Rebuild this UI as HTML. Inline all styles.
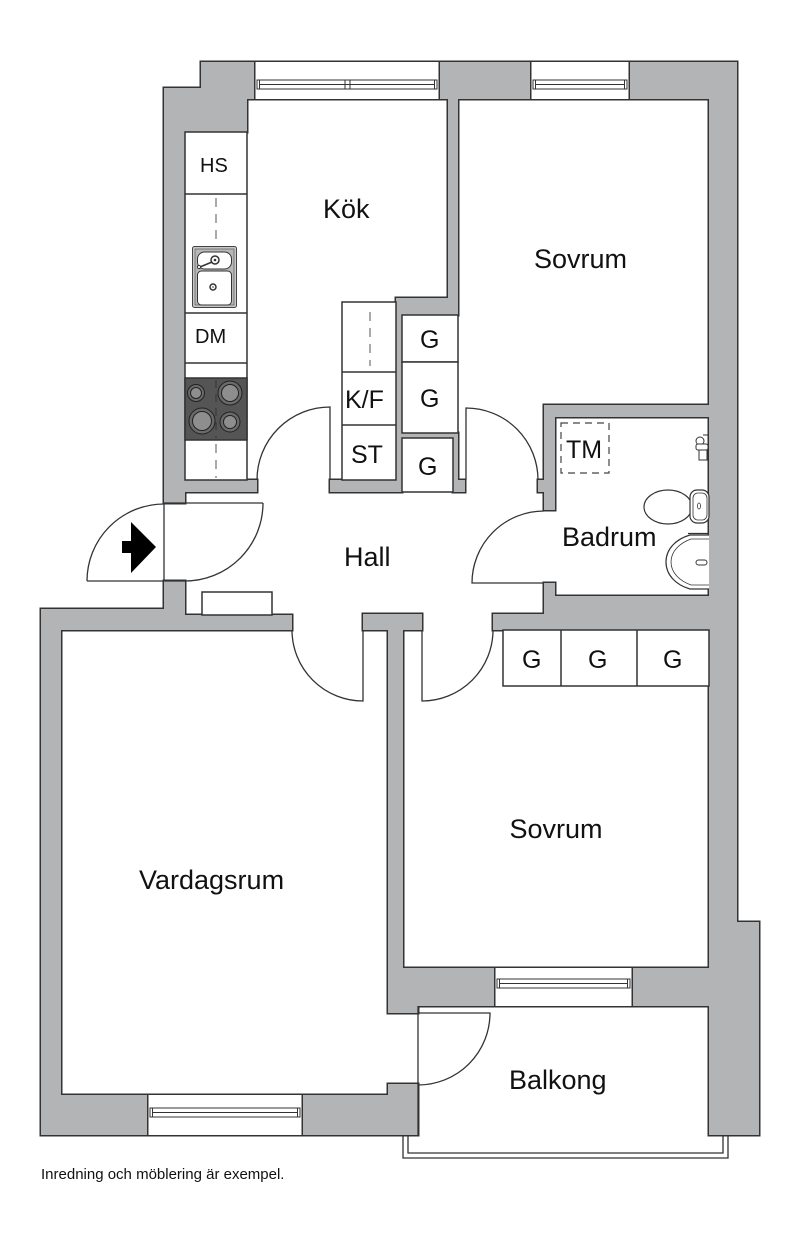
<!DOCTYPE html>
<html><head><meta charset="utf-8">
<style>
html,body{margin:0;padding:0;background:#fff;}
svg{display:block;}
text{font-family:"Liberation Sans",Arial,sans-serif;fill:#111;}
</style></head><body>
<svg width="800" height="1243" viewBox="0 0 800 1243" xmlns="http://www.w3.org/2000/svg">
<defs>
<g id="walls">
<rect x="201" y="62" width="53" height="37"/>
<rect x="164" y="88" width="83" height="44"/>
<rect x="164" y="88" width="21" height="415"/>
<rect x="440" y="62" width="90" height="37"/>
<rect x="630" y="62" width="107" height="37"/>
<rect x="709" y="62" width="28" height="868"/>
<rect x="709" y="922" width="50" height="213"/>
<rect x="448" y="95" width="10" height="220"/>
<rect x="396" y="298" width="62" height="17"/>
<rect x="396" y="298" width="6" height="194"/>
<rect x="400" y="433" width="58" height="5"/>
<rect x="453" y="433" width="5" height="59"/>
<rect x="453" y="480" width="12" height="12"/>
<rect x="180" y="480" width="77" height="12"/>
<rect x="330" y="480" width="72" height="12"/>
<rect x="544" y="405" width="170" height="12"/>
<rect x="544" y="405" width="11" height="105"/>
<rect x="538" y="480" width="17" height="12"/>
<rect x="544" y="583" width="11" height="20"/>
<rect x="544" y="596" width="170" height="34"/>
<rect x="493" y="614" width="55" height="16"/>
<rect x="363" y="614" width="59" height="16"/>
<rect x="388" y="614" width="15" height="399"/>
<rect x="180" y="615" width="112" height="15"/>
<rect x="41" y="609" width="144" height="21"/>
<rect x="164" y="581" width="21" height="49"/>
<rect x="41" y="609" width="20" height="526"/>
<rect x="41" y="1095" width="106" height="40"/>
<rect x="303" y="1095" width="115" height="40"/>
<rect x="388" y="1084" width="30" height="15"/>
<rect x="388" y="968" width="106" height="38"/>
<rect x="388" y="1000" width="30" height="13"/>
<rect x="633" y="968" width="80" height="38"/>
</g>
</defs>
<use href="#walls" fill="none" stroke="#333" stroke-width="3"/>
<use href="#walls" fill="#b3b4b6" stroke="none"/>

<!-- window edge lines -->
<g stroke="#333" stroke-width="1.5" fill="none">
<line x1="254" y1="61.25" x2="440" y2="61.25"/>
<line x1="254" y1="99.75" x2="440" y2="99.75"/>
<line x1="530" y1="61.25" x2="630" y2="61.25"/>
<line x1="530" y1="99.75" x2="630" y2="99.75"/>
<line x1="494" y1="967.25" x2="633" y2="967.25"/>
<line x1="494" y1="1006.75" x2="633" y2="1006.75"/>
<line x1="147" y1="1094.25" x2="303" y2="1094.25"/>
<line x1="147" y1="1135.75" x2="303" y2="1135.75"/>
</g>
<!-- window frames -->
<g stroke="#333" stroke-width="1" fill="#fff">
<rect x="257" y="80" width="180" height="9"/>
<line x1="259" y1="84.5" x2="435" y2="84.5"/>
<line x1="259.5" y1="80" x2="259.5" y2="89"/>
<line x1="434.5" y1="80" x2="434.5" y2="89"/>
<line x1="345" y1="80" x2="345" y2="89"/>
<line x1="350" y1="80" x2="350" y2="89"/>
<rect x="533" y="80" width="94" height="9"/>
<line x1="535" y1="84.5" x2="625" y2="84.5"/>
<line x1="535.5" y1="80" x2="535.5" y2="89"/>
<line x1="624.5" y1="80" x2="624.5" y2="89"/>
<rect x="497" y="979" width="133" height="9"/>
<line x1="499" y1="983.5" x2="628" y2="983.5"/>
<line x1="499.5" y1="979" x2="499.5" y2="988"/>
<line x1="627.5" y1="979" x2="627.5" y2="988"/>
<rect x="150" y="1108" width="150" height="9"/>
<line x1="152" y1="1112.5" x2="298" y2="1112.5"/>
<line x1="152.5" y1="1108" x2="152.5" y2="1117"/>
<line x1="297.5" y1="1108" x2="297.5" y2="1117"/>
</g>

<!-- kitchen left counter -->
<g stroke="#333" stroke-width="1.5" fill="#fff">
<rect x="185" y="132" width="62" height="348"/>
<line x1="185" y1="194" x2="247" y2="194"/>
<line x1="185" y1="313" x2="247" y2="313"/>
<line x1="185" y1="363" x2="247" y2="363"/>
</g>
<g stroke="#555" stroke-width="1" stroke-dasharray="9 7" fill="none">
<line x1="216" y1="198" x2="216" y2="246"/>
<line x1="216" y1="444" x2="216" y2="478"/>
</g>
<!-- sink -->
<rect x="192.5" y="246.5" width="44" height="61" rx="2" fill="#c8c8c8" stroke="#444" stroke-width="1"/>
<rect x="195" y="249" width="39" height="56" fill="#b8b8b8" stroke="#666" stroke-width="0.8"/>
<rect x="197.5" y="252" width="34" height="17" rx="7" fill="#fff" stroke="#333" stroke-width="1"/>
<rect x="197.5" y="271" width="34" height="34" rx="4" fill="#fff" stroke="#333" stroke-width="1"/>
<circle cx="215" cy="260" r="4" fill="#fff" stroke="#333" stroke-width="1.5"/>
<circle cx="215" cy="260" r="1.3" fill="#333"/>
<line x1="212" y1="262" x2="200" y2="267" stroke="#333" stroke-width="1.5"/>
<circle cx="199" cy="267" r="1.6" fill="#fff" stroke="#333" stroke-width="1"/>
<circle cx="213" cy="287" r="3" fill="#fff" stroke="#333" stroke-width="1.5"/>
<circle cx="213" cy="287" r="0.8" fill="#333"/>
<!-- stove -->
<rect x="185" y="378" width="62" height="62" fill="#555" stroke="#333" stroke-width="1.5"/>
<line x1="216" y1="380" x2="216" y2="438" stroke="#333" stroke-width="1" stroke-dasharray="8 6"/>
<g stroke="#222" stroke-width="1">
<circle cx="196" cy="393" r="8.5" fill="#6a6a6a"/><circle cx="196" cy="393" r="5.5" fill="#8e8e8e"/>
<circle cx="230" cy="393" r="12" fill="#6a6a6a"/><circle cx="230" cy="393" r="8.5" fill="#8e8e8e"/>
<circle cx="202" cy="421" r="13" fill="#6a6a6a"/><circle cx="202" cy="421" r="9.5" fill="#8e8e8e"/>
<circle cx="230" cy="422" r="10" fill="#6a6a6a"/><circle cx="230" cy="422" r="6.5" fill="#8e8e8e"/>
</g>

<!-- kitchen right box -->
<g stroke="#333" stroke-width="1.5" fill="#fff">
<rect x="342" y="302" width="54" height="178"/>
<line x1="342" y1="372" x2="396" y2="372"/>
<line x1="342" y1="425" x2="396" y2="425"/>
</g>
<line x1="370" y1="312" x2="370" y2="366" stroke="#555" stroke-width="1" stroke-dasharray="9 7"/>

<!-- closets -->
<g stroke="#333" stroke-width="1.5" fill="#fff">
<rect x="402" y="315" width="56" height="47"/>
<rect x="402" y="362" width="56" height="71"/>
<rect x="402" y="438" width="51" height="54"/>
<rect x="503" y="630" width="206" height="56"/>
<line x1="561" y1="630" x2="561" y2="686"/>
<line x1="637" y1="630" x2="637" y2="686"/>
<rect x="202" y="592" width="70" height="23"/>
</g>

<!-- doors -->
<g stroke="#333" stroke-width="1.3" fill="none">
<path d="M257 480 A73 73 0 0 1 330 407 L330 480"/>
<path d="M466 480 L466 408 A72 72 0 0 1 538 480"/>
<path d="M544 511 A72 72 0 0 0 472 583 L544 583"/>
<path d="M87 581 A77 77 0 0 1 164 504"/>
<path d="M263 503 A78 78 0 0 1 185 581"/>
<line x1="164" y1="503" x2="263" y2="503"/>
<line x1="87" y1="581" x2="185" y2="581"/>
<line x1="164" y1="503" x2="164" y2="581"/>
<path d="M292 630 A71 71 0 0 0 363 701 L363 630"/>
<path d="M493 630 A71 71 0 0 1 422 701 L422 630"/>
<path d="M418 1013 L490 1013 A72 72 0 0 1 418 1085"/>
<line x1="418" y1="1006" x2="418" y2="1135"/>
</g>
<!-- entry arrow -->
<polygon points="122,541 131,541 131,522 156,547 131,573 131,553 122,553" fill="#000"/>

<!-- balcony railing -->
<g stroke="#333" stroke-width="1.3" fill="none">
<path d="M403 1135 V1158 H728 V1135"/>
<path d="M408 1135 V1153 H723 V1135"/>
</g>

<!-- bathroom fixtures -->
<rect x="561" y="423" width="48" height="50" fill="none" stroke="#444" stroke-width="1.2" stroke-dasharray="7 5"/>
<ellipse cx="668" cy="507" rx="24" ry="17" fill="#fff" stroke="#333" stroke-width="1.2"/>
<rect x="690" y="490" width="19" height="33" rx="7" fill="#fff" stroke="#333" stroke-width="1.2"/>
<rect x="693" y="493" width="14" height="27" rx="5" fill="none" stroke="#333" stroke-width="0.8"/>
<ellipse cx="699" cy="506" rx="1.5" ry="3" fill="none" stroke="#333" stroke-width="0.8"/>
<line x1="688" y1="533.5" x2="709" y2="533.5" stroke="#333" stroke-width="1.2"/>
<path d="M709 535 L690 535 C676 539 666 549 666 562 C666 575 676 585 690 589 L709 589" fill="#fff" stroke="#333" stroke-width="1.2"/>
<path d="M709 539 L691 539 C680 543 671 551 671 562 C671 573 680 581 691 585 L709 585" fill="none" stroke="#333" stroke-width="0.8"/>
<rect x="696" y="560" width="11" height="5" rx="2.5" fill="#fff" stroke="#333" stroke-width="1"/>
<g stroke="#333" stroke-width="1" fill="#fff">
<circle cx="700" cy="441" r="4"/>
<rect x="696" y="444" width="12" height="6" rx="2"/>
<rect x="699" y="450" width="8" height="10"/>
<line x1="703" y1="435" x2="708" y2="435"/>
</g>

<!-- labels -->
<g font-size="27">
<text x="323" y="218">Kök</text>
<text x="534" y="268">Sovrum</text>
<text x="344" y="566">Hall</text>
<text x="562" y="546">Badrum</text>
<text x="556" y="838" text-anchor="middle">Sovrum</text>
<text x="139" y="889">Vardagsrum</text>
<text x="509" y="1089">Balkong</text>
</g>
<g font-size="20">
<text x="200" y="172">HS</text>
<text x="195" y="343">DM</text>
</g>
<g font-size="25">
<text x="345" y="408">K/F</text>
<text x="351" y="463">ST</text>
<text x="420" y="348">G</text>
<text x="420" y="407">G</text>
<text x="418" y="475">G</text>
<text x="566" y="458">TM</text>
<text x="522" y="668">G</text>
<text x="588" y="668">G</text>
<text x="663" y="668">G</text>
</g>
<text x="41" y="1179" font-size="15">Inredning och möblering är exempel.</text>
</svg>
</body></html>
